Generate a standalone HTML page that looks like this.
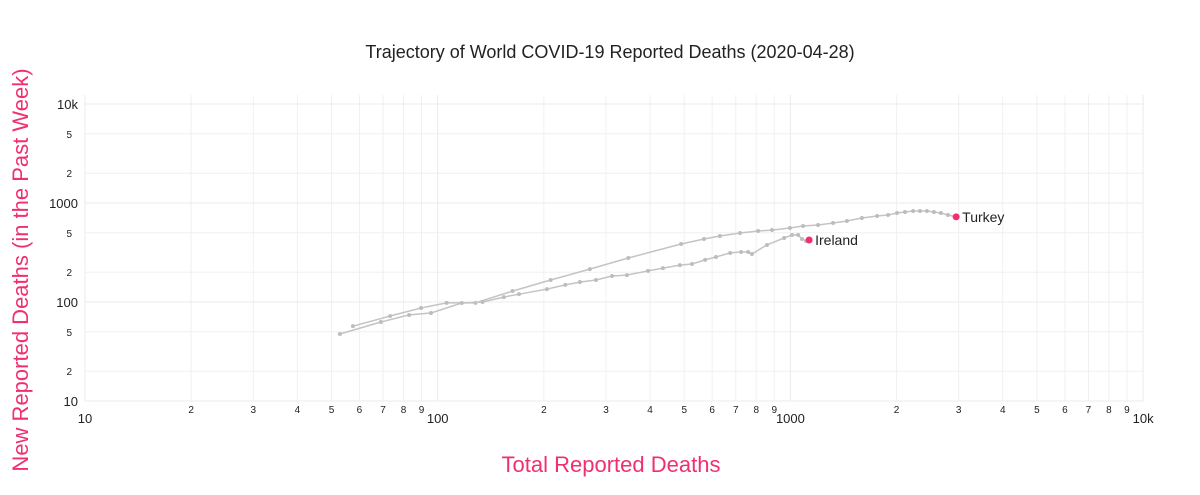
<!DOCTYPE html>
<html><head><meta charset="utf-8"><style>
body{margin:0;background:#fff;font-family:"Liberation Sans",Arial,sans-serif}
svg text{font-family:"Liberation Sans",Arial,sans-serif}
</style></head><body>
<svg id="chart" width="1200" height="490">
<text x="610" y="58" font-size="18" text-anchor="middle" fill="#222">Trajectory of World COVID-19 Reported Deaths (2020-04-28)</text>
<text transform="translate(28,270) rotate(-90)" font-size="22" text-anchor="middle" fill="#f0306e">New Reported Deaths (in the Past Week)</text>
<text x="611" y="472" font-size="22" text-anchor="middle" fill="#f0306e">Total Reported Deaths</text>
<g id="grid"></g><g id="series"></g>
</svg>
<script>
const xMajor=[10,100,1000,10000];
const xMajorLabels=["10","100","1000","10k"];
const yMajorLabels=["10","100","1000","10k"];
const minorX=[2,3,4,5,6,7,8,9];
const minorY=[2,5];
const turkeyX=[57.5,73.3,89.7,106,128,163,209,270,347,490,569,631,720,810,887,997,1086,1198,1321,1446,1595,1761,1893,2006,2113,2228,2330,2438,2552,2671,2797,2951];
const turkeyY=[57,72.2,87,98,98,129,167,215,278,385,433,464,498,521,533,559,586,600,628,658,705,739,757,793,811,830,830,830,811,793,757,725];
const irelandX=[52.8,69,83,95.7,117,134,154,170,204,230,253,281,312,344,395,435,486,526,573,615,675,725,759,778,858,960,1011,1052,1079,1107,1130];
const irelandY=[47.5,62.8,74,77.4,97.7,100,112,120,135,149,159,167,183,187,206,220,236,242,266,285,313,320,320,305,377,443,475,475,433,413,423];
const NS="http://www.w3.org/2000/svg";
const X0=85,XD=352.7,Y0=401,YD=99;
const sx=v=>X0+XD*(Math.log10(v)-1);
const sy=v=>Y0-YD*(Math.log10(v)-1);
function mk(t,a,p){const e=document.createElementNS(NS,t);for(const k in a)e.setAttribute(k,a[k]);p.appendChild(e);return e;}
const grid=document.getElementById('grid'),ser=document.getElementById('series');
xMajor.forEach((d,i)=>{
 const gx=mk('line',{x1:sx(d),x2:sx(d),y1:95,y2:401,stroke:'#ebebeb'},grid);
 
 
 const tx=mk('text',{x:sx(d),y:423,'font-size':13,'text-anchor':'middle',fill:'#222'},grid);tx.textContent=xMajorLabels[i];
 
 
 const gy=mk('line',{x1:85,x2:1143,y1:sy(d),y2:sy(d),stroke:'#ebebeb'},grid);
 
 
 const ty=mk('text',{x:78,y:sy(d)+5,'font-size':13,'text-anchor':'end',fill:'#222'},grid);ty.textContent=yMajorLabels[i];
 
 
 if(i<3){
  minorX.forEach(m=>{const v=d*m;
   const l=mk('line',{x1:sx(v),x2:sx(v),y1:95,y2:401,stroke:'#f0f0f0'},grid);
   
   
   const t=mk('text',{x:sx(v),y:413,'font-size':10,'text-anchor':'middle',fill:'#222'},grid);t.textContent=m;
   
   });
  minorY.forEach(m=>{const v=d*m;
   const l=mk('line',{x1:85,x2:1143,y1:sy(v),y2:sy(v),stroke:'#f0f0f0'},grid);
   
   
   const t=mk('text',{x:72,y:sy(v)+4,'font-size':10,'text-anchor':'end',fill:'#222'},grid);t.textContent=m;
   
   });
 }
});
function draw(xs,ys,name){
 const pts=xs.map((x,i)=>sx(x).toFixed(1)+','+sy(ys[i]).toFixed(1)).join(' ');
 const pl=mk('polyline',{points:pts,fill:'none',stroke:'#c4c4c4','stroke-width':1.5},ser);
 
 
 xs.forEach((x,i)=>{if(i===xs.length-1)return;
  const c=mk('circle',{cx:sx(x),cy:sy(ys[i]),r:2,fill:'#bdbdbd'},ser);
  
  });
 const n=xs.length-1;
 const e=mk('circle',{cx:sx(xs[n]),cy:sy(ys[n]),r:3.5,fill:'#f0306e'},ser);
 
 
 const t=mk('text',{x:sx(xs[n])+6,y:sy(ys[n])+5,'font-size':14,fill:'#222'},ser);
 t.textContent=name==='turkey'?'Turkey':'Ireland';
 
 
}
draw(turkeyX,turkeyY,'turkey');
draw(irelandX,irelandY,'ireland');
</script>
</body></html>
